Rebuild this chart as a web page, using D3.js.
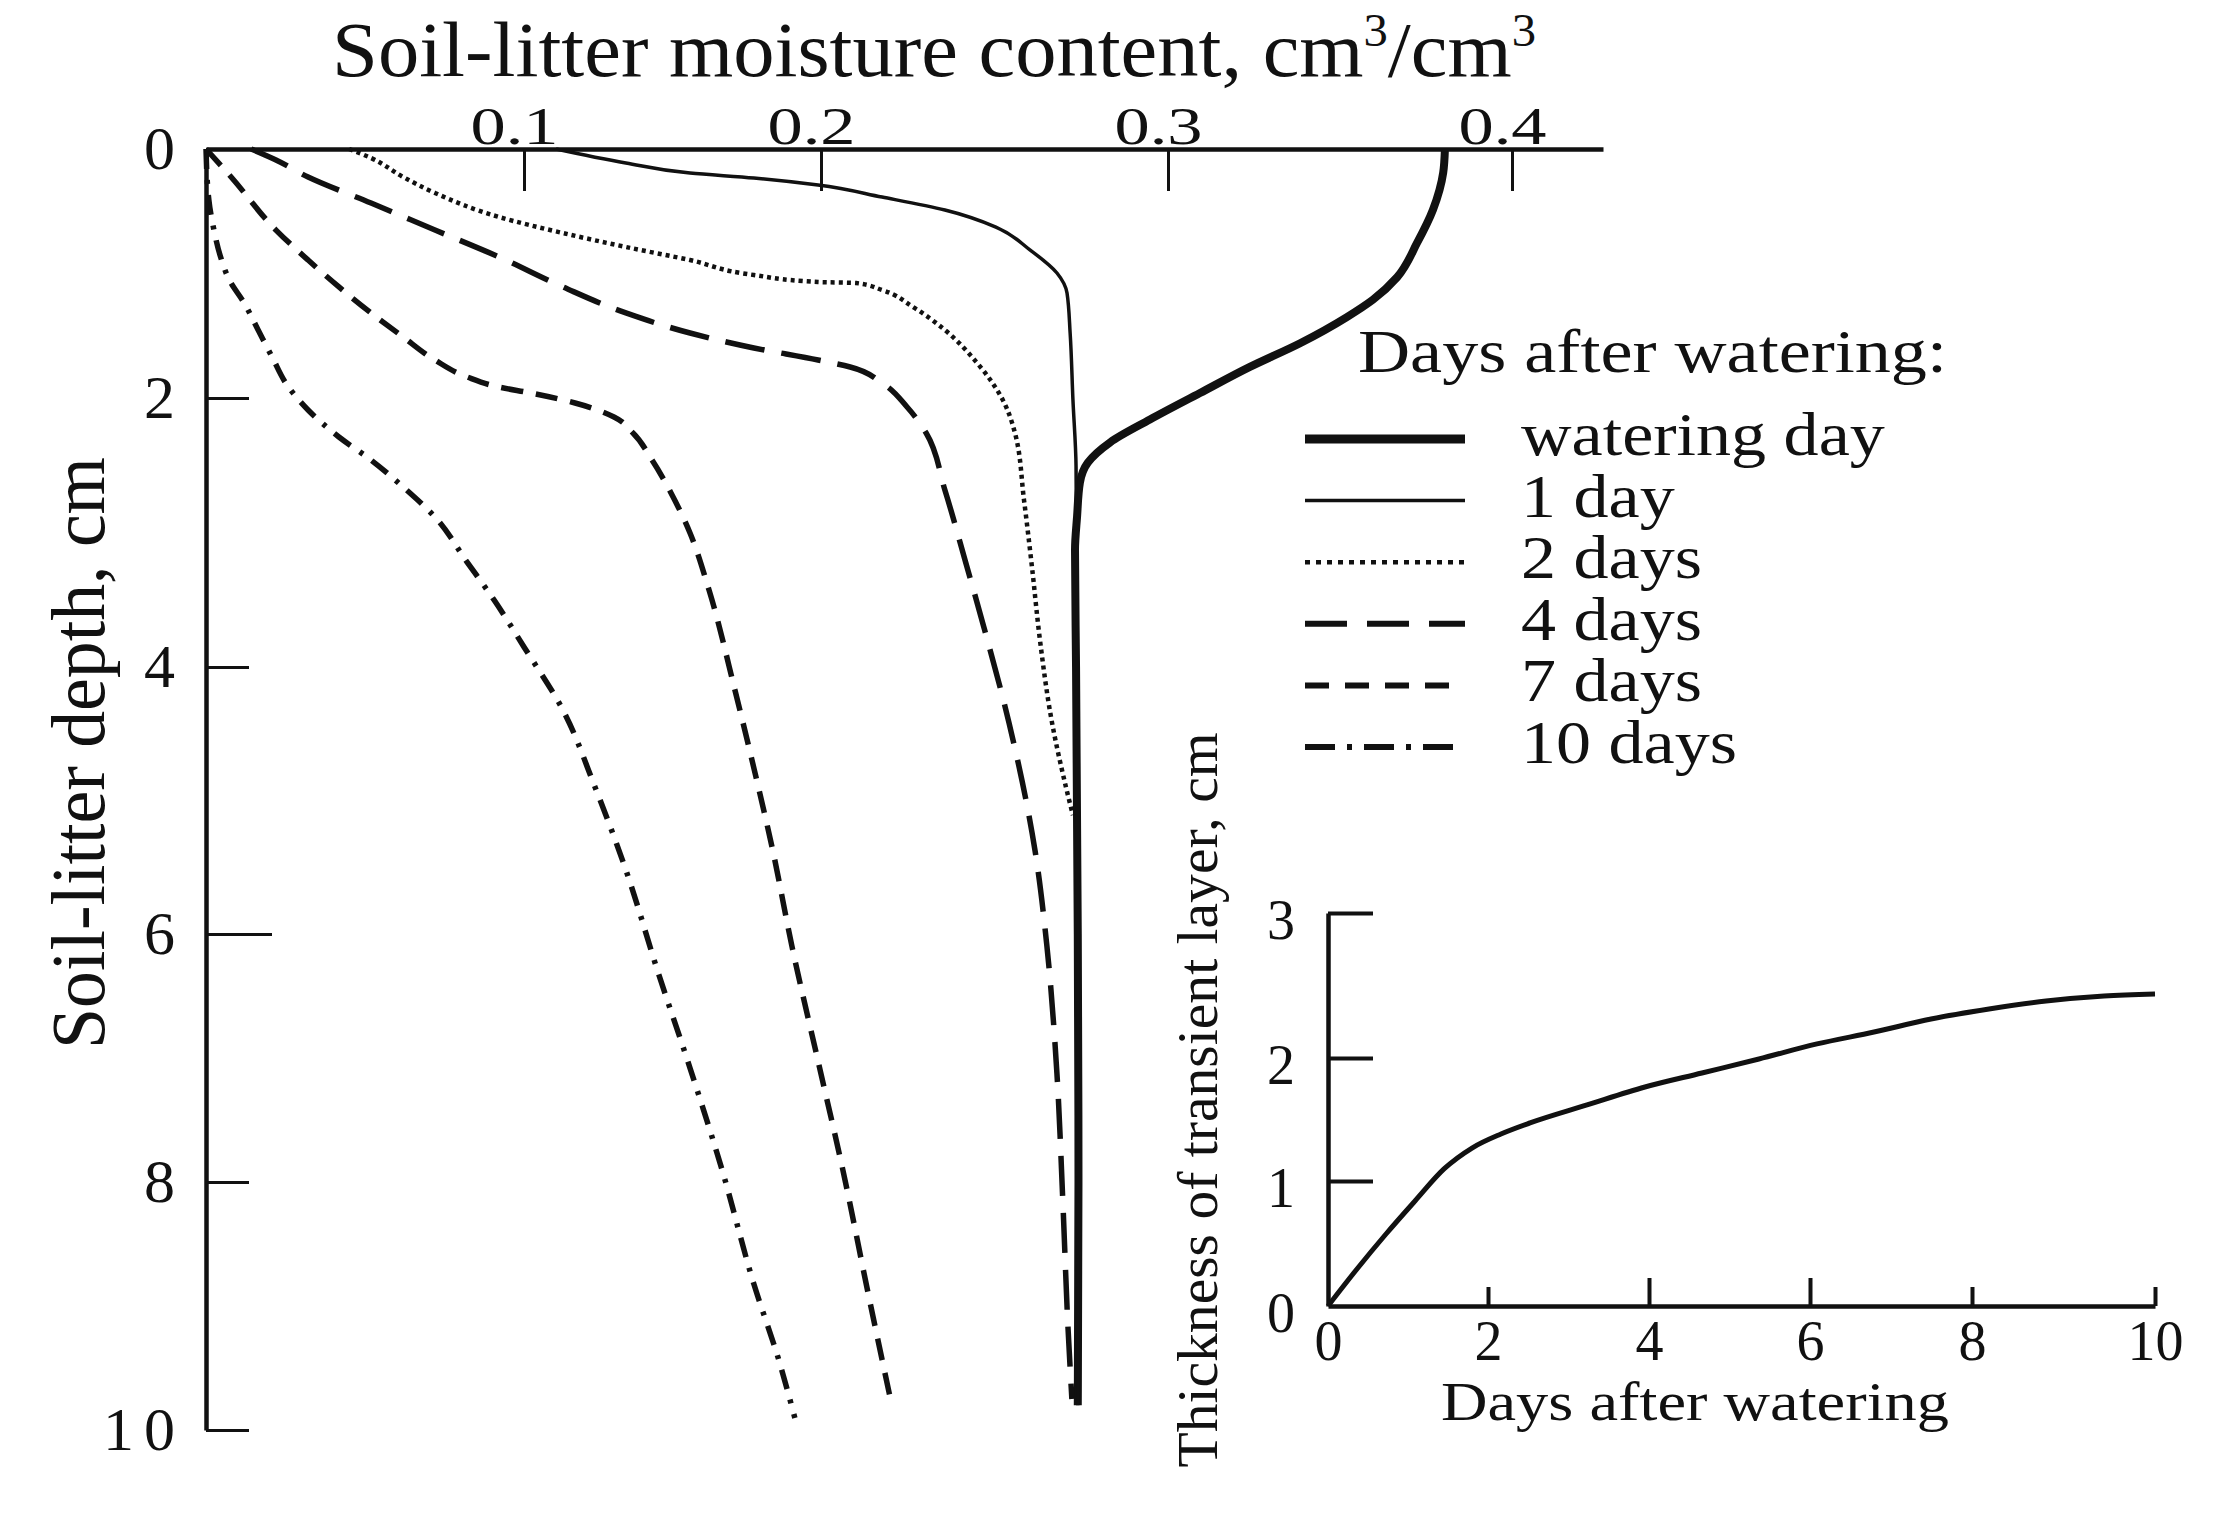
<!DOCTYPE html>
<html>
<head>
<meta charset="utf-8">
<script src="https://cdn.jsdelivr.net/npm/d3@7"></script>
<style>
  html, body { margin: 0; padding: 0; background: #fff; }
  svg { display: block; }
  text { font-family: "Liberation Serif", "Times New Roman", serif; fill: #111; }
</style>
</head>
<body>
<svg id="chart" width="2214" height="1517"></svg>
<script>
// ---------------- DATA ----------------
const moistureTicks = [0.1, 0.2, 0.3, 0.4];
const depthTicks = [0, 2, 4, 6, 8, 10];
const insetDayTicks = [0, 2, 4, 6, 8, 10];
const insetThickTicks = [0, 1, 2, 3];

const seriesLabels = ["watering day", "1 day", "2 days", "4 days", "7 days", "10 days"];

// [moisture content (cm3/cm3), depth (cm)]
const wateringDay = [
  [0.3805, 0], [0.380, 0.19], [0.377, 0.49], [0.3724, 0.755], [0.3666, 1.03], [0.3596, 1.21],
  [0.352, 1.35], [0.3384, 1.56], [0.3238, 1.75], [0.3093, 1.96], [0.2948, 2.16], [0.2833, 2.33],
  [0.2769, 2.48], [0.2746, 2.63], [0.2738, 2.88], [0.2732, 3.13], [0.2735, 4], [0.274, 6],
  [0.2742, 8], [0.274, 9.8]
];
const oneDay = [
  [0.1108, 0], [0.1343, 0.112], [0.1559, 0.193], [0.1774, 0.233], [0.199, 0.289], [0.2176, 0.386],
  [0.2357, 0.49], [0.2504, 0.627], [0.2602, 0.81], [0.268, 0.996], [0.2709, 1.157], [0.2718, 1.48],
  [0.2726, 2.01], [0.2735, 2.51], [0.2738, 4], [0.274, 6], [0.2742, 8], [0.274, 9.8]
];
const twoDays = [
  [0.045, 0], [0.0519, 0.072], [0.062, 0.225], [0.072, 0.353], [0.0921, 0.546], [0.1131, 0.675],
  [0.1343, 0.787], [0.1559, 0.892], [0.1774, 1.012], [0.199, 1.068], [0.2101, 1.076], [0.2176, 1.133],
  [0.2265, 1.269], [0.2357, 1.454], [0.245, 1.719], [0.2524, 2.015], [0.2559, 2.26], [0.2585, 2.758],
  [0.2608, 3.257], [0.2631, 3.8], [0.2666, 4.42], [0.2706, 4.9], [0.2726, 5.11]
];
const fourDays = [
  [0.0142, 0], [0.022, 0.088], [0.0321, 0.225], [0.0519, 0.434], [0.072, 0.651], [0.0921, 0.867],
  [0.1131, 1.108], [0.1343, 1.317], [0.1559, 1.478], [0.1774, 1.598], [0.199, 1.695], [0.2084, 1.751],
  [0.2176, 1.88], [0.2248, 2.067], [0.2303, 2.26], [0.2357, 2.684], [0.2415, 3.204], [0.247, 3.71],
  [0.2542, 4.42], [0.2617, 5.378], [0.2651, 6.097], [0.268, 7.129], [0.2697, 8.161], [0.2712, 9.185],
  [0.2723, 9.75]
];
const sevenDays = [
  [0, 0], [0.0079, 0.225], [0.022, 0.651], [0.0321, 0.892], [0.0418, 1.108], [0.0519, 1.317],
  [0.062, 1.51], [0.072, 1.695], [0.0821, 1.831], [0.0921, 1.912], [0.1024, 1.96], [0.1172, 2.037],
  [0.1303, 2.141], [0.1367, 2.26], [0.1431, 2.461], [0.1495, 2.706], [0.1559, 3.004], [0.1623, 3.428],
  [0.1711, 4.18], [0.1774, 4.757], [0.1838, 5.378], [0.1902, 6.097], [0.199, 7.024], [0.2063, 7.903],
  [0.2138, 8.927], [0.2202, 9.774]
];
const tenDays = [
  [0, 0], [0.0009, 0.41], [0.0025, 0.651], [0.0044, 0.851], [0.0075, 1.06], [0.012, 1.237],
  [0.0164, 1.454], [0.0208, 1.671], [0.0255, 1.896], [0.0321, 2.089], [0.0418, 2.29], [0.0519, 2.461],
  [0.062, 2.662], [0.072, 2.885], [0.0821, 3.22], [0.0906, 3.502], [0.1, 3.851], [0.1131, 4.322],
  [0.1239, 4.899], [0.1343, 5.52], [0.1451, 6.306], [0.1559, 7.081], [0.1667, 7.903], [0.1774, 8.823],
  [0.1859, 9.444], [0.1912, 9.903]
];

// inset: thickness of transient layer vs days after watering
const insetDays = [0, 0.3625, 0.725, 1.0875, 1.45, 1.8, 2.161, 2.522, 3.23, 3.95, 4.658, 5.366,
  6.086, 6.79, 7.494, 8.186, 8.809, 9.443, 10];
const insetThickness = [0, 0.296, 0.576, 0.84, 1.098, 1.268, 1.382, 1.472, 1.618, 1.764, 1.878, 1.992,
  2.097, 2.179, 2.269, 2.338, 2.393, 2.428, 2.441];

// ---------------- STYLES ----------------
const allSeries = [wateringDay, oneDay, twoDays, fourDays, sevenDays, tenDays];
const seriesStyle = [
  { w: 8,   dash: null },
  { w: 3.5, dash: null },
  { w: 4.5, dash: "4,4" },
  { w: 5.5, dash: "40,17" },
  { w: 5.5, dash: "22,13" },
  { w: 5.5, dash: "20,11,4,11" }
];
const legendStyle = [
  { w: 9,   dash: null },
  { w: 3.5, dash: null },
  { w: 4.5, dash: "5,6" },
  { w: 6,   dash: "42,20" },
  { w: 6,   dash: "24,16" },
  { w: 6,   dash: "30,12,5,12" }
];

// ---------------- DRAW ----------------
const svg = d3.select("#chart");
const FONT = "'Liberation Serif', 'Times New Roman', serif";

// hand-drawn (non-uniform) axes: polylinear scales
const x = d3.scaleLinear().domain([0, 0.1, 0.2, 0.3, 0.4, 0.4265]).range([206, 524, 821, 1168, 1512, 1603]);
const y = d3.scaleLinear().domain([0, 2, 4, 6, 8, 10]).range([149, 398, 667, 934, 1182, 1430]);

// curves
const line = d3.line().x(d => x(d[0])).y(d => y(d[1])).curve(d3.curveMonotoneY);
svg.append("g").selectAll("path").data(allSeries).join("path")
  .attr("d", line)
  .attr("fill", "none")
  .attr("stroke", "#111")
  .attr("stroke-width", (d, i) => seriesStyle[i].w)
  .attr("stroke-dasharray", (d, i) => seriesStyle[i].dash)
  .attr("stroke-linejoin", "round");

// top x axis
const xAxis = svg.append("g").attr("transform", `translate(0,${y(0)})`)
  .call(d3.axisTop(x).tickValues(moistureTicks).tickSize(-42).tickSizeOuter(0)
    .tickPadding(5).tickFormat(d3.format(".1f")));
xAxis.select(".domain").attr("stroke", "#111").attr("stroke-width", 4.5);
xAxis.selectAll(".tick line").attr("stroke", "#111").attr("stroke-width", 3);
xAxis.selectAll(".tick text")
  .attr("font-family", FONT).attr("font-size", 53).attr("fill", "#111")
  .attr("dx", -10).attr("textLength", 88).attr("lengthAdjust", "spacingAndGlyphs");

// left y axis
const yAxis = svg.append("g").attr("transform", `translate(${x(0)},0)`)
  .call(d3.axisLeft(y).tickValues(depthTicks).tickSize(-43).tickSizeOuter(0).tickPadding(31));
yAxis.select(".domain").attr("stroke", "#111").attr("stroke-width", 4.5);
yAxis.selectAll(".tick line").attr("stroke", "#111").attr("stroke-width", 3)
  .attr("x2", d => d === 6 ? 66 : 43);
yAxis.selectAll(".tick text")
  .attr("font-family", FONT).attr("font-size", 62).attr("fill", "#111");
yAxis.selectAll(".tick").filter(d => d === 10).select("text")
  .attr("textLength", 72).attr("lengthAdjust", "spacing");

// titles
const title = svg.append("text")
  .attr("x", 332).attr("y", 76)
  .attr("font-size", 78).attr("font-family", FONT)
  .attr("textLength", 1204).attr("lengthAdjust", "spacingAndGlyphs");
title.append("tspan").text("Soil-litter moisture content, cm");
title.append("tspan").text("3").attr("font-size", 46).attr("dy", -30);
title.append("tspan").text("/cm").attr("dy", 30);
title.append("tspan").text("3").attr("font-size", 46).attr("dy", -30);

svg.append("text")
  .attr("transform", "translate(104,753) rotate(-90)")
  .attr("text-anchor", "middle")
  .attr("font-size", 76).attr("font-family", FONT)
  .attr("textLength", 592).attr("lengthAdjust", "spacingAndGlyphs")
  .text("Soil-litter depth, cm");

// legend
svg.append("text")
  .attr("x", 1358).attr("y", 372)
  .attr("font-size", 62).attr("font-family", FONT)
  .attr("textLength", 589).attr("lengthAdjust", "spacingAndGlyphs")
  .text("Days after watering:");

const legendRowY = d3.scalePoint().domain(seriesLabels).range([439, 747]);
const leg = svg.append("g").selectAll("g").data(seriesLabels).join("g");
leg.append("line")
  .attr("x1", 1305).attr("x2", 1465)
  .attr("y1", d => legendRowY(d)).attr("y2", d => legendRowY(d))
  .attr("stroke", "#111")
  .attr("stroke-width", (d, i) => legendStyle[i].w)
  .attr("stroke-dasharray", (d, i) => legendStyle[i].dash);
leg.append("text")
  .attr("x", 1521).attr("y", d => legendRowY(d) + 16)
  .attr("font-size", 62).attr("font-family", FONT)
  .text(d => d)
  .each(function () {
    const w = this.getComputedTextLength();
    d3.select(this).attr("textLength", w * 1.13).attr("lengthAdjust", "spacingAndGlyphs");
  });

// ---------------- INSET ----------------
const ix = d3.scaleLinear().domain([0, 2, 4, 6, 8, 10]).range([1328, 1488, 1649, 1810, 1972, 2155]);
const iy = d3.scaleLinear().domain([0, 1, 2, 3]).range([1306, 1181, 1058, 913]);

const ixAxis = svg.append("g").attr("transform", `translate(0,${iy(0)})`)
  .call(d3.axisBottom(ix).tickValues(insetDayTicks).tickSize(-19).tickSizeOuter(0)
    .tickPadding(14).tickFormat(d3.format("d")));
ixAxis.select(".domain").attr("stroke", "#111").attr("stroke-width", 4.5);
ixAxis.selectAll(".tick line").attr("stroke", "#111").attr("stroke-width", 4)
  .attr("y2", d => d === 0 ? 0 : (d === 4 || d === 6 ? -28 : -19));
ixAxis.selectAll(".tick text")
  .attr("font-family", FONT).attr("font-size", 56).attr("fill", "#111");

const iyAxis = svg.append("g").attr("transform", `translate(${ix(0)},0)`)
  .call(d3.axisLeft(iy).tickValues(insetThickTicks).tickSize(-45).tickSizeOuter(0)
    .tickPadding(33).tickFormat(d3.format("d")));
iyAxis.select(".domain").attr("stroke", "#111").attr("stroke-width", 4.5);
iyAxis.selectAll(".tick line").attr("stroke", "#111").attr("stroke-width", 4)
  .attr("x2", d => d === 0 ? 0 : 45);
iyAxis.selectAll(".tick text")
  .attr("font-family", FONT).attr("font-size", 56).attr("fill", "#111")
  .attr("y", 8);

const iline = d3.line().x((d, i) => ix(insetDays[i])).y(d => iy(d)).curve(d3.curveMonotoneX);
svg.append("path")
  .datum(insetThickness)
  .attr("d", iline)
  .attr("fill", "none").attr("stroke", "#111").attr("stroke-width", 5);

svg.append("text")
  .attr("x", 1441).attr("y", 1420)
  .attr("font-size", 55).attr("font-family", FONT)
  .attr("textLength", 508).attr("lengthAdjust", "spacingAndGlyphs")
  .text("Days after watering");

svg.append("text")
  .attr("transform", "translate(1217,1100) rotate(-90)")
  .attr("text-anchor", "middle")
  .attr("font-size", 57).attr("font-family", FONT)
  .attr("textLength", 735).attr("lengthAdjust", "spacingAndGlyphs")
  .text("Thickness of transient layer, cm");
</script>
</body>
</html>
